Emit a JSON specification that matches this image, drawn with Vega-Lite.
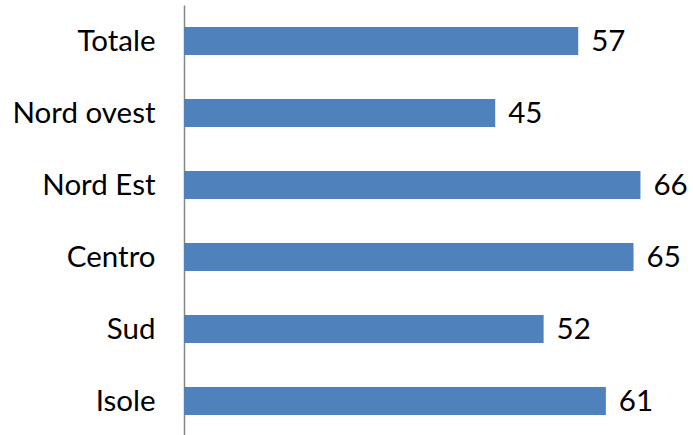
{
  "$schema": "https://vega.github.io/schema/vega-lite/v6.json",
  "autosize": {"type": "none"},
  "padding": {"left": 184, "top": 5, "right": 0, "bottom": 0},
  "width": 509,
  "height": 432,
  "background": "white",
  "config": {"view": {"stroke": null}, "font": "Lato"},
  "data": {"values": [
    {"area": "Totale", "value": 57},
    {"area": "Nord ovest", "value": 45},
    {"area": "Nord Est", "value": 66},
    {"area": "Centro", "value": 65},
    {"area": "Sud", "value": 52},
    {"area": "Isole", "value": 61}
  ]},
  "encoding": {
    "y": {"field": "area", "type": "nominal", "sort": null,
      "scale": {"paddingInner": 0.61, "paddingOuter": 0.305},
      "axis": {"title": null, "ticks": false, "domainColor": "#868686", "domainWidth": 1.5,
        "labelFontSize": 29.5, "labelColor": "#000000", "labelPadding": 29, "labelFont": "Lato", "labelOffset": 1}},
    "x": {"field": "value", "type": "quantitative",
      "scale": {"domain": [0, 73.6], "nice": false}, "axis": null}
  },
  "layer": [
    {"mark": {"type": "bar", "color": "#4F81BD"}},
    {"mark": {"type": "text", "align": "left", "baseline": "middle", "dx": 13, "dy": 1, "fontSize": 29.5, "color": "#000000", "font": "Lato"},
     "encoding": {"text": {"field": "value", "type": "quantitative"}}}
  ]
}
